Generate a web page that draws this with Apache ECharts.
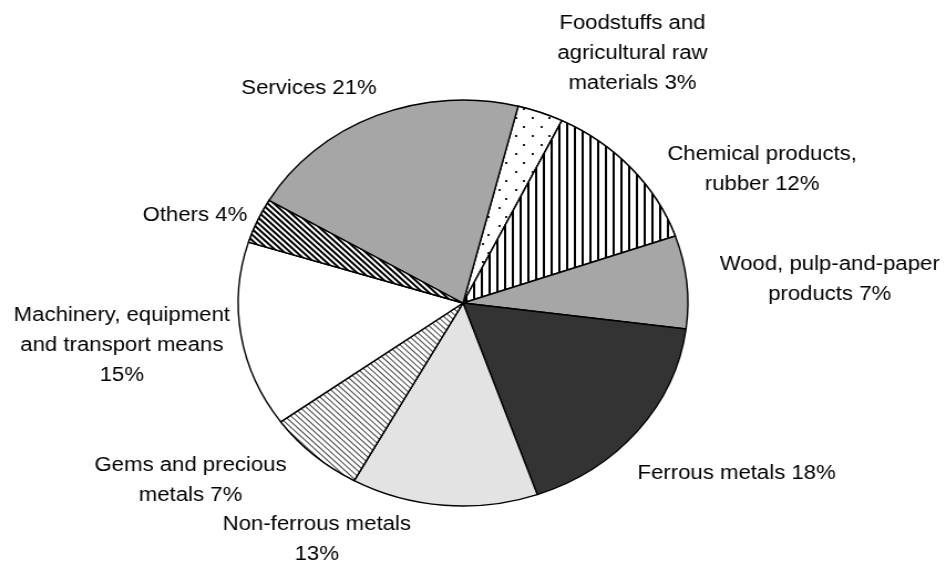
<!DOCTYPE html>
<html>
<head>
<meta charset="utf-8">
<script src="https://cdn.jsdelivr.net/npm/echarts@6/dist/echarts.min.js"></script>
<style>
  html, body { margin: 0; padding: 0; background: #fff; overflow: hidden; }
  /* the source picture is stretched sideways, so draw a circle and stretch it */
  #chart { width: 854px; height: 563px; transform: scaleX(1.1077); transform-origin: 0 0; }
</style>
</head>
<body>
<div id="chart"></div>
<script>
const categories = [
  'Foodstuffs and\nagricultural raw\nmaterials',
  'Chemical products,\nrubber',
  'Wood, pulp-and-paper\nproducts',
  'Ferrous metals',
  'Non-ferrous metals\n',
  'Gems and precious\nmetals',
  'Machinery, equipment\nand transport means\n',
  'Others',
  'Services'
]
const values = [3.3, 12.4, 7.4, 17.6, 13.4, 7.0, 14.8, 3.6, 20.5]

const cx = 418
const cy = 303

// label centres, relative to the pie centre
const labelOffsets = [
  [153, -250],
  [270, -134],
  [331, -24],
  [247, 170],
  [-132, 236],
  [-246, 177],
  [-308, 42],
  [-242, -88],
  [-139, -215]
]

const slice = (color, decal) => ({ color, decal })
const styles = [
  slice('#fff', { symbol: 'rect', symbolSize: 1, color: '#222', backgroundColor: '#fff',
    dashArrayX: [[2, 13], [0, 7.5, 2, 5.5]], dashArrayY: [2, 6.3] }),
  slice('#fff', { symbol: 'rect', symbolSize: 1, color: '#000', backgroundColor: '#fff',
    dashArrayX: [1.2, 4.5], dashArrayY: [1, 0] }),
  slice('#a6a6a6', null),
  slice('#333333', null),
  slice('#e3e3e3', null),
  slice('#fff', { symbol: 'rect', symbolSize: 1, color: '#444', backgroundColor: '#fff',
    dashArrayX: [1, 0], dashArrayY: [1, 2.6], rotation: Math.PI / 4 }),
  slice('#fff', null),
  slice('#fff', { symbol: 'rect', symbolSize: 1, color: '#000', backgroundColor: '#fff',
    dashArrayX: [1, 0], dashArrayY: [1.8, 1.8], rotation: Math.PI / 4 }),
  slice('#a6a6a6', null)
]

const chart = echarts.init(document.getElementById('chart'))

chart.setOption({
  animation: false,
  series: [
    {
      type: 'pie',
      center: [cx, cy],
      radius: 203,
      startAngle: 75.8,
      clockwise: true,
      percentPrecision: 0,
      avoidLabelOverlap: false,
      data: categories.map((name, i) => ({
        name,
        value: values[i],
        itemStyle: {
          color: styles[i].color,
          decal: styles[i].decal || undefined
        }
      })),
      itemStyle: {
        borderColor: '#000',
        borderWidth: 1.4
      },
      emphasis: { disabled: true },
      label: {
        show: true,
        position: 'outside',
        fontFamily: 'Liberation Sans, Arial, sans-serif',
        fontSize: 20,
        lineHeight: 30,
        color: '#000',
        formatter: p => p.name.endsWith('\n') ? p.name + p.percent + '%' : p.name + ' ' + p.percent + '%'
      },
      labelLine: { show: false },
      labelLayout: params => {
        const o = labelOffsets[params.dataIndex]
        return { x: cx + o[0], y: cy + o[1], align: 'center', verticalAlign: 'middle' }
      }
    }
  ]
})
</script>
</body>
</html>
